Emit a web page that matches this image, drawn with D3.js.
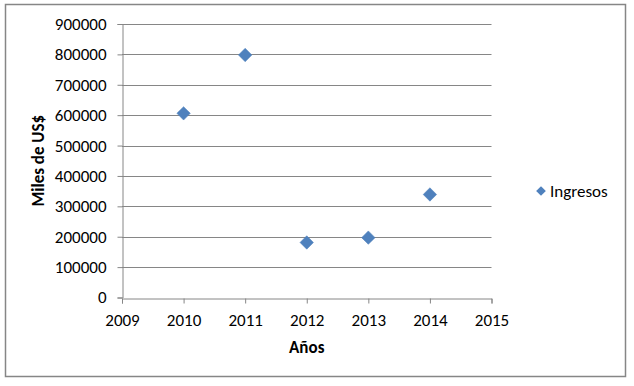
<!DOCTYPE html>
<html lang="es">
<head>
  <meta charset="utf-8">
  <title>Ingresos</title>
  <script src="https://d3js.org/d3.v7.min.js"></script>
  <style>
    body { margin: 0; background: #fff; }
    text { font-family: Carlito, "Liberation Sans", Arial, sans-serif; }
  </style>
</head>
<body>
<div id="chart"></div>
<script>
  // data
  var years = [2010, 2011, 2012, 2013, 2014];
  var ingresos = [606000, 798000, 181000, 197000, 339000];
  var xTicks = [2009, 2010, 2011, 2012, 2013, 2014, 2015];
  var yTicks = [0, 100000, 200000, 300000, 400000, 500000, 600000, 700000, 800000, 900000];
  var seriesName = "Ingresos";

  var W = 634, H = 386;
  var plot = { left: 122, top: 24, right: 491.5, bottom: 297.5 };

  var svg = d3.select("#chart").append("svg")
    .attr("width", W).attr("height", H);

  // outer chart border
  svg.append("rect")
    .attr("x", 5.5).attr("y", 4.5)
    .attr("width", 620).attr("height", 372)
    .attr("fill", "#fff")
    .attr("stroke", "#868686").attr("stroke-width", 1.5);

  var x = d3.scaleLinear().domain([2009, 2015]).range([plot.left, plot.right]);
  var y = d3.scaleLinear().domain([0, 900000]).range([plot.bottom, plot.top]);

  // gridlines
  svg.append("g")
    .selectAll("line")
    .data(yTicks.slice(1))
    .enter().append("line")
    .attr("x1", plot.left).attr("x2", plot.right)
    .attr("y1", function(d) { return Math.round(y(d)) + 0.5; })
    .attr("y2", function(d) { return Math.round(y(d)) + 0.5; })
    .attr("stroke", "#868686").attr("stroke-width", 1);

  // y axis
  var yAxis = svg.append("g")
    .attr("transform", "translate(" + (plot.left + 0.5) + ",0)")
    .call(d3.axisLeft(y).tickValues(yTicks).tickFormat(d3.format("d")).tickSize(5).tickPadding(11));
  yAxis.select(".domain").attr("stroke", "#868686");
  yAxis.selectAll(".tick line").attr("stroke", "#868686");
  yAxis.selectAll("text").attr("font-size", 17).attr("fill", "#000");

  // x axis
  var xAxis = svg.append("g")
    .attr("transform", "translate(0," + (Math.round(plot.bottom) + 0.5) + ")")
    .call(d3.axisBottom(x).tickValues(xTicks).tickFormat(d3.format("d")).tickSize(5).tickPadding(10));
  xAxis.select(".domain").attr("stroke", "#868686");
  xAxis.selectAll(".tick line").attr("stroke", "#868686");
  xAxis.selectAll("text").attr("font-size", 17).attr("fill", "#000");

  // axis titles
  svg.append("text")
    .attr("transform", "translate(44," + ((plot.top + plot.bottom) / 2) + ") rotate(-90)")
    .attr("text-anchor", "middle")
    .attr("font-size", 17).attr("font-weight", "bold")
    .text("Miles de US$");

  svg.append("text")
    .attr("x", (plot.left + plot.right) / 2).attr("y", 353)
    .attr("text-anchor", "middle")
    .attr("font-size", 17).attr("font-weight", "bold")
    .text("Años");

  // points
  var diamond = d3.symbol().type(d3.symbolDiamond2).size(115);
  svg.append("g")
    .selectAll("path")
    .data(years)
    .enter().append("path")
    .attr("d", diamond)
    .attr("transform", function(d, i) { return "translate(" + x(d) + "," + y(ingresos[i]) + ")"; })
    .attr("fill", "#4F81BD")
    .attr("stroke", "#4A7EBB").attr("stroke-width", 0.5);

  // legend
  var legend = svg.append("g").attr("transform", "translate(541,191)");
  legend.append("path")
    .attr("d", d3.symbol().type(d3.symbolDiamond2).size(60))
    .attr("fill", "#4F81BD");
  legend.append("text")
    .attr("x", 9).attr("y", 5.5)
    .attr("font-size", 17)
    .text(seriesName);
</script>
</body>
</html>
